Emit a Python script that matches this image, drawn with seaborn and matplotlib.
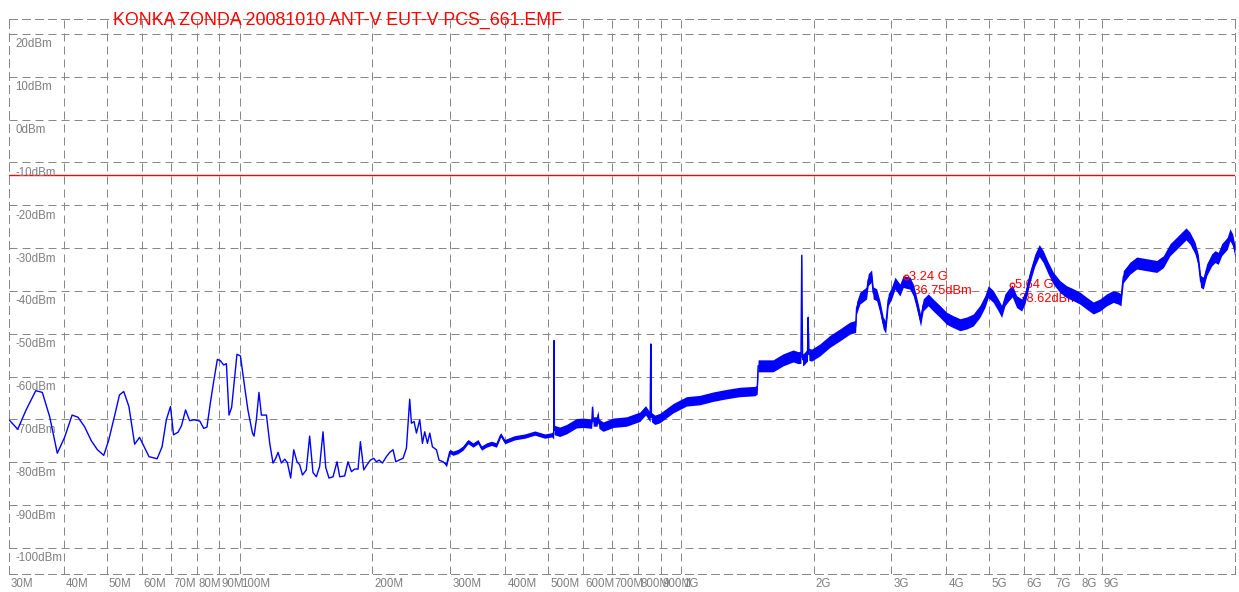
import numpy as np
import matplotlib
matplotlib.use("Agg")
import matplotlib.pyplot as plt
import matplotlib.transforms as mtransforms
import seaborn as sns

title = "KONKA ZONDA 20081010 ANT-V EUT-V PCS_661.EMF"

# Peak-hold sweep, frequency in MHz and level in dBm
freq_mhz = [
    30.0, 31.4, 32.8, 34.5, 35.7, 37.1, 38.6, 40.1, 41.7, 43.0,
    44.5, 46.1, 47.6, 49.2, 50.5, 52.1, 53.4, 54.6, 56.1, 57.8,
    59.3, 62.3, 65.0, 66.7, 68.2, 69.7, 70.8, 72.5, 73.8, 75.4,
    77.0, 78.8, 81.2, 82.9, 84.3, 85.8, 87.3, 89.0, 90.4, 92.0,
    93.3, 94.6, 95.9, 98.6, 100.4, 102.6, 104.4, 106.9, 107.8, 109.1,
    110.6, 112.0, 115.0, 117.0, 119.0, 120.7, 122.2, 124.3, 126.5, 128.3,
    130.5, 132.6, 134.9, 136.8, 138.8, 141.6, 144.1, 146.6, 149.2, 151.8,
    154.5, 156.7, 159.4, 162.8, 166.2, 168.6, 173.0, 176.0, 179.2, 182.3,
    185.5, 187.8, 191.1, 194.4, 197.9, 201.3, 204.2, 207.0, 210.7, 215.1,
    218.9, 222.7, 225.9, 229.8, 234.6, 238.8, 242.9, 245.1, 248.5, 251.6,
    256.0, 259.6, 262.7, 266.5, 269.7, 273.5, 279.3, 283.1, 289.1, 294.3,
    299.4, 304.6, 312.6, 320.9, 329.4, 338.1, 347.0, 353.3, 362.6, 372.2,
    382.1, 390.7, 399.0, 408.1, 420.0, 443.0, 466.6, 491.6, 510.0, 515.0,
    516.0, 517.0, 531.6, 550.5, 580.0, 600.5, 628.0, 630.7, 633.0, 646.0,
    649.4, 652.0, 666.5, 702.2, 753.3, 807.2, 831.8, 852.0, 855.0, 858.0,
    873.1, 896.1, 960.5, 1030, 1104, 1184, 1269, 1361, 1472, 1490,
    1497, 1619, 1706, 1797, 1845, 1872, 1880, 1888, 1894, 1937,
    1944, 1951, 1979, 2066, 2177, 2293, 2416, 2490, 2503, 2546,
    2637, 2659, 2707, 2730, 2779, 2827, 2876, 2913, 2952, 3005,
    3058, 3138, 3193, 3240, 3306, 3364, 3411, 3452, 3495, 3543,
    3637, 3733, 3866, 4004, 4145, 4294, 4446, 4602, 4764, 4890,
    4975, 5107, 5242, 5336, 5429, 5530, 5640, 5770, 5923, 6026,
    6185, 6348, 6493, 6629, 6805, 6985, 7233, 7491, 7755, 8031,
    8318, 8609, 8915, 9232, 9557, 9808, 9947, 10070, 10430, 10800,
    11380, 11990, 12410, 12850, 13300, 13660, 13970, 14260, 14640, 14890,
    15080, 15290, 15560, 15970, 16250, 16530, 16830, 17330, 17570, 17820,
    18040,
]
level_dbm = [
    -70.1, -72.3, -67.8, -63.3, -63.7, -69.4, -77.9, -74.2, -69.0, -69.5,
    -71.7, -75.0, -77.1, -78.4, -74.8, -69.0, -64.3, -63.5, -67.0, -75.8,
    -74.2, -78.7, -79.2, -76.4, -70.1, -67.0, -73.6, -73.0, -71.5, -67.8,
    -70.3, -70.1, -70.4, -72.1, -71.8, -66.2, -61.2, -56.0, -56.3, -57.3,
    -57.0, -69.0, -67.2, -54.8, -55.2, -62.3, -67.8, -73.2, -73.9, -70.1,
    -63.7, -69.0, -69.0, -75.6, -80.2, -79.1, -77.7, -80.2, -79.3, -80.1,
    -83.7, -77.1, -79.9, -80.6, -83.0, -81.8, -73.9, -82.4, -83.4, -81.0,
    -72.9, -81.2, -83.7, -83.4, -79.9, -83.4, -83.2, -79.9, -82.2, -81.6,
    -81.6, -75.2, -81.8, -80.6, -79.5, -79.1, -79.9, -79.5, -80.2, -78.7,
    -77.7, -77.1, -79.9, -79.5, -79.1, -76.7, -65.3, -70.9, -70.5, -73.2,
    -70.1, -75.6, -72.9, -75.6, -73.2, -76.4, -77.1, -79.5, -79.9, -80.6,
    -77.5, -77.9, -77.5, -76.7, -75.2, -76.0, -75.2, -76.7, -76.0, -75.6,
    -76.0, -73.6, -75.2, -74.8, -74.3, -73.9, -73.2, -73.9, -73.6, -73.5,
    -51.6, -72.5, -72.9, -72.3, -70.9, -70.8, -71.0, -67.2, -70.5, -70.5,
    -68.9, -71.0, -71.7, -70.8, -70.5, -69.4, -67.9, -69.5, -52.4, -69.5,
    -70.1, -69.7, -67.4, -65.8, -65.5, -64.7, -64.1, -63.6, -63.4, -63.0,
    -57.5, -57.5, -56.1, -55.2, -55.6, -55.5, -31.7, -56.0, -56.1, -55.0,
    -46.2, -54.8, -55.0, -53.8, -51.8, -50.3, -48.7, -48.3, -44.0, -41.7,
    -40.5, -37.4, -36.5, -40.5, -40.9, -43.7, -47.5, -48.5, -42.1, -40.5,
    -38.2, -39.8, -37.8, -38.0, -38.2, -39.8, -42.1, -44.4, -46.9, -43.3,
    -42.1, -43.3, -44.8, -46.4, -47.2, -47.9, -47.5, -46.8, -44.8, -42.5,
    -40.2, -41.3, -43.3, -44.8, -42.1, -41.0, -40.0, -42.5, -43.3, -41.7,
    -36.7, -32.8, -30.6, -32.0, -34.7, -37.0, -39.0, -40.2, -40.9, -41.7,
    -42.9, -44.0, -43.3, -42.1, -41.3, -41.7, -42.1, -36.7, -34.7, -33.5,
    -33.9, -34.3, -33.2, -30.4, -28.9, -27.7, -26.7, -27.7, -30.0, -32.8,
    -37.8, -38.2, -35.1, -32.8, -32.0, -32.4, -30.4, -28.9, -26.9, -28.1,
    -30.8,
]

# Half-width (dB) of the noise band around the trace, per frequency span (MHz)
noise_span_start = [290, 512, 1494]
noise_span_stop = [512, 1494, 18100]
noise_halfwidth_db = [0.5, 1.1, 1.4]

# Peak markers
marker_freq_mhz = [3240, 5640]
marker_level_dbm = [-36.75, -38.62]

limit_dbm = -13

level_ticks = [20, 10, 0, -10, -20, -30, -40, -50, -60, -70, -80, -90, -100]
level_tick_labels = ["20dBm", "10dBm", "0dBm", "-10dBm", "-20dBm", "-30dBm",
                     "-40dBm", "-50dBm", "-60dBm", "-70dBm", "-80dBm",
                     "-90dBm", "-100dBm"]
freq_ticks = [30, 40, 50, 60, 70, 80, 90, 100, 200, 300, 400, 500, 600, 700,
              800, 900, 1000, 2000, 3000, 4000, 5000, 6000, 7000, 8000, 9000]
freq_tick_labels = ["30M", "40M", "50M", "60M", "70M", "80M", "90M", "100M",
                    "200M", "300M", "400M", "500M", "600M", "700M", "800M",
                    "900M", "1G", "2G", "3G", "4G", "5G", "6G", "7G", "8G", "9G"]

sns.set_style("white")
plt.rcParams["font.family"] = ["Liberation Sans", "DejaVu Sans"]

W, H = 1239, 592
fig = plt.figure(figsize=(W / 100, H / 100), dpi=100)
ax = fig.add_axes([9 / W, (H - 574) / H, 1226 / W, (574 - 19.3) / H])
ax.set_xscale("log")
ax.set_xlim(30, 18040)
ax.set_ylim(-106.1, 23.4)

grid_color = "#888888"
dash = (0, (8, 5))
ax.set_xticks(freq_ticks)
ax.set_yticks(level_ticks)
ax.xaxis.set_minor_locator(matplotlib.ticker.NullLocator())
ax.tick_params(which="both", length=0, labelbottom=False, labelleft=False)
ax.grid(True, which="major", color=grid_color, linestyle=dash, linewidth=0.72)
for sp in ax.spines.values():
    sp.set_visible(True)
    sp.set_color(grid_color)
    sp.set_linestyle(dash)
    sp.set_linewidth(0.72)
ax.set_axisbelow(True)

label_color = "#7f7f7f"
label_size = 8.3
xfm_x = mtransforms.blended_transform_factory(ax.transData, ax.transAxes)
for f, lab in zip(freq_ticks, freq_tick_labels):
    ax.annotate(lab, xy=(f, 0), xycoords=xfm_x, xytext=(2, -13),
                textcoords="offset pixels", ha="left", va="baseline",
                color=label_color, fontsize=label_size, annotation_clip=False)
xfm_y = mtransforms.blended_transform_factory(ax.transAxes, ax.transData)
for v, lab in zip(level_ticks, level_tick_labels):
    ax.annotate(lab, xy=(0, v), xycoords=xfm_y, xytext=(6, -13.5),
                textcoords="offset pixels", ha="left", va="baseline",
                color=label_color, fontsize=label_size, annotation_clip=False)

# Limit line
ax.axhline(limit_dbm, color="#ff0000", linewidth=1.0, zorder=2)

# Trace with its noise band
f_arr = np.asarray(freq_mhz, dtype=float)
l_arr = np.asarray(level_dbm, dtype=float)
half = np.zeros_like(f_arr)
for a, b, w in zip(noise_span_start, noise_span_stop, noise_halfwidth_db):
    half[(f_arr >= a) & (f_arr < b)] = w
ax.fill_between(f_arr, l_arr - half, l_arr + half, color="#0000ff",
                linewidth=0, zorder=3)
sns.lineplot(x=f_arr, y=l_arr, ax=ax, estimator=None, sort=False,
             color="#0000ff", linewidth=1.0, zorder=4)

# Peak markers and their readouts
ax.plot(marker_freq_mhz, marker_level_dbm, linestyle="none", marker="o",
        markersize=3.4, markerfacecolor="none", markeredgecolor="#ff0000",
        markeredgewidth=0.9, zorder=5)
for f, lvl in zip(marker_freq_mhz, marker_level_dbm):
    ax.annotate(f"{f / 1000:.2f} G", xy=(f, lvl), xytext=(3, -2.6),
                textcoords="offset pixels", ha="left", va="baseline",
                color="#ff0000", fontsize=9.3, zorder=2)
    ax.annotate(f"{lvl:.2f}dBm", xy=(f, lvl), xytext=(3, -16.6),
                textcoords="offset pixels", ha="left", va="baseline",
                color="#ff0000", fontsize=9.3, zorder=2)

ax.set_xlabel("")
ax.set_ylabel("")

fig.text(113 / W, 1 - 25 / H, title, color="#ff0000", fontsize=12.75,
         ha="left", va="baseline")

fig.savefig("out.png", dpi=100)
